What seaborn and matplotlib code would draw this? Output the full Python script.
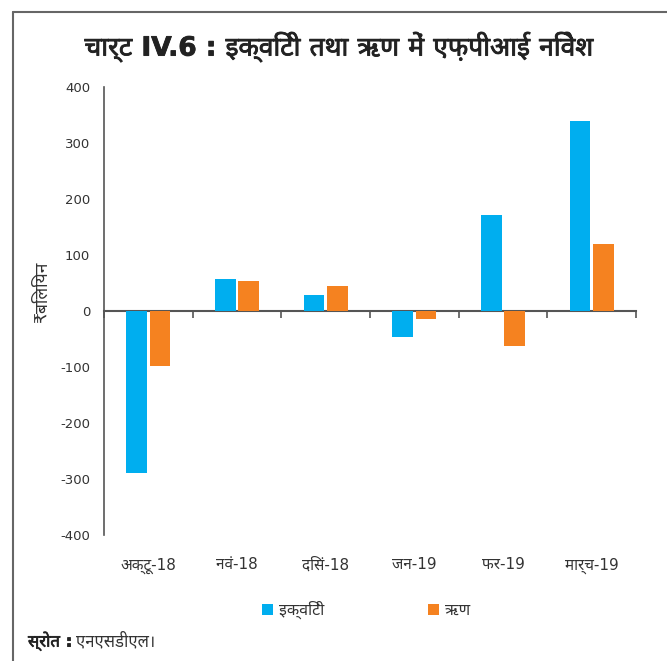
import numpy as np
import pandas as pd
import seaborn as sns
import matplotlib
matplotlib.use("Agg")
import matplotlib.pyplot as plt
import matplotlib.patheffects as pe
from matplotlib import font_manager
from matplotlib.ft2font import FT2Font
from matplotlib.lines import Line2D

# Monthly FPI flows (₹ billion)
months = ["अक्टू-18", "नवं-18", "दिसं-18", "जन-19", "फर-19", "मार्च-19"]
equity = [-290, 58, 28, -46, 171, 339]
debt = [-99, 54, 45, -15, -62, 119]
series_names = ["इक्विटी", "ऋण"]
series_colors = ["#00AEEF", "#F58220"]
y_ticks = [-400, -300, -200, -100, 0, 100, 200, 300, 400]

title = "चार्ट IV.6 : इक्विटी तथा ऋण में एफ़पीआई निवेश"
y_label = "₹बिलियन"
source_head = "स्रोत :"
source_body = "एनएसडीएल।"

PREFERRED = ["Noto Sans Devanagari", "Noto Sans Devanagari UI", "Lohit Devanagari",
             "Mukta", "Hind", "Poppins", "FreeSans", "Gargi", "Kalimati",
             "Noto Serif Devanagari", "FreeSerif"]


def find_devanagari_family():
    """Return an installed font family that covers Devanagari."""
    found = []
    for entry in font_manager.fontManager.ttflist:
        try:
            cmap = FT2Font(entry.fname).get_charmap()
        except Exception:
            continue
        if 0x0915 in cmap and 0x094D in cmap:
            found.append(entry.name)
    for name in PREFERRED:
        if name in found:
            return name
    return found[0] if found else None


sns.set_theme(style="white")
deva = find_devanagari_family()
families = ["DejaVu Sans"] + ([deva] if deva else [])
plt.rcParams["font.family"] = families

df = pd.DataFrame({
    "month": months * 2,
    "series": [series_names[0]] * len(months) + [series_names[1]] * len(months),
    "value": equity + debt,
})

fig = plt.figure(figsize=(6.67, 6.61), dpi=100)
ax = fig.add_axes([0.156, 0.1906, 0.7975, 0.6778])

sns.barplot(
    data=df, x="month", y="value", hue="series",
    order=months, hue_order=series_names,
    palette=dict(zip(series_names, series_colors)),
    width=0.53, gap=0.12, saturation=1, linewidth=0,
    ax=ax,
)

axis_color = "#555555"
text_color = "#333333"
dark_text = "#222222"

ax.set_xlim(-0.5, len(months) - 0.5)
ax.set_ylim(-400, 400)
ax.set_yticks(y_ticks)
ax.set_yticklabels([str(v) for v in y_ticks])
ax.set_xlabel("")
ax.set_ylabel("")

for side in ["top", "right", "bottom"]:
    ax.spines[side].set_visible(False)
ax.spines["left"].set_color(axis_color)
ax.spines["left"].set_linewidth(1.2)

ax.tick_params(axis="y", direction="out", length=5, width=1.2, color=axis_color,
               labelsize=9.5, labelcolor=text_color, pad=5)
ax.tick_params(axis="x", length=0, labelsize=11, labelcolor=text_color, pad=16)

# Category axis drawn along zero with boundary tick marks
zero_axis = ax.secondary_xaxis(0, transform=ax.transData)
zero_axis.set_xticks(np.arange(-0.5, len(months), 1.0))
zero_axis.set_xticklabels([])
zero_axis.tick_params(direction="out", length=5, width=1.2, color=axis_color)
zero_axis.spines["bottom"].set_color(axis_color)
zero_axis.spines["bottom"].set_linewidth(1.5)
for side in ["top", "left", "right"]:
    zero_axis.spines[side].set_visible(False)

# Legend below the axis labels
handles, labels = ax.get_legend_handles_labels()
ax.legend_.remove()
fig.legend(handles, labels, loc="center", bbox_to_anchor=(0.549, 1 - 610 / 661),
           ncol=2, frameon=False, fontsize=11.5, handlelength=0.7, handleheight=0.7,
           handletextpad=0.35, columnspacing=6.5, labelcolor=text_color)

fig.text(42 / 667, 1 - 292 / 661, y_label, rotation=90, ha="center", va="center",
         fontsize=12.5, color=text_color)

bold_effect = [pe.withStroke(linewidth=0.6, foreground=dark_text)]
fig.text(0.508, 1 - 47 / 661, title, ha="center", va="center",
         fontsize=19, fontweight="bold", color=dark_text, path_effects=bold_effect)

head = fig.text(28 / 667, 1 - 641 / 661, source_head, ha="left", va="center",
                fontsize=12, fontweight="bold", color=dark_text,
                path_effects=[pe.withStroke(linewidth=0.5, foreground=dark_text)])
ax.annotate(source_body, xy=(1, 0.5), xycoords=head, xytext=(3, 0),
            textcoords="offset points", ha="left", va="center",
            fontsize=12, color=text_color, annotation_clip=False)

# Frame lines along the top and left edges
frame_kw = dict(transform=fig.transFigure, color="#666666", linewidth=1.5)
fig.add_artist(Line2D([13 / 667, 1.0], [1 - 12 / 661, 1 - 12 / 661], **frame_kw))
fig.add_artist(Line2D([13 / 667, 13 / 667], [0.0, 1 - 12 / 661], **frame_kw))

fig.savefig("out.png", dpi=100)
